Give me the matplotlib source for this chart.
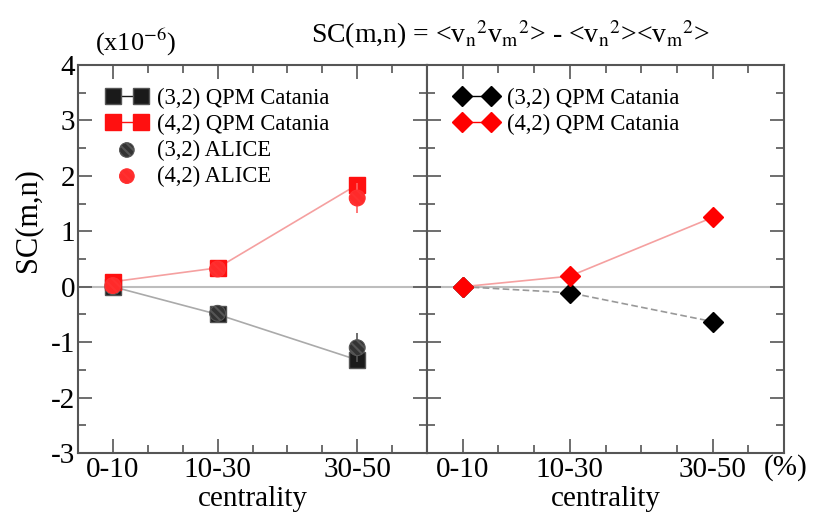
import matplotlib
matplotlib.use("Agg")
import matplotlib.pyplot as plt
import numpy as np
from matplotlib.ticker import MultipleLocator, FixedLocator

plt.rcParams['font.family'] = ['Liberation Serif', 'DejaVu Serif']
plt.rcParams['mathtext.fontset'] = 'stix'
plt.rcParams['axes.unicode_minus'] = False
plt.rcParams['hatch.linewidth'] = 1.5

# centrality bins (x position = bin centre in %)
cent = [5, 20, 40]
cent_labels = ["0-10", "10-30", "30-50"]

# left panel: QPM Catania vs ALICE
qpm32_left = [0.0, -0.5, -1.32]
qpm42_left = [0.09, 0.34, 1.84]
alice32 = [0.0, -0.48, -1.1]
alice32_err = [0.03, 0.05, 0.26]
alice42 = [0.02, 0.32, 1.6]
alice42_err = [0.03, 0.05, 0.27]

# right panel: QPM Catania
qpm32_right = [0.0, -0.11, -0.63]
qpm42_right = [0.0, 0.19, 1.25]

HATCH = '\\\\\\\\'

fig = plt.figure(figsize=(8.16, 5.17), dpi=100)
ax1 = fig.add_axes([0.0956, 0.1238, 0.4277, 0.7505])
ax2 = fig.add_axes([0.5233, 0.1238, 0.4375, 0.7505])

for ax in (ax1, ax2):
    ax.axhline(0, color='#bdbdbd', lw=1.5, zorder=1)
    ax.set_xlim(0, 50)
    ax.set_ylim(-3, 4)
    ax.xaxis.set_major_locator(FixedLocator(cent))
    ax.xaxis.set_minor_locator(FixedLocator([10, 15, 25, 30, 35, 45]))
    ax.set_xticklabels(cent_labels)
    ax.yaxis.set_major_locator(MultipleLocator(1))
    ax.yaxis.set_minor_locator(MultipleLocator(0.5))
    ax.tick_params(which='both', direction='in', top=True, right=True,
                   labelsize=21, color='#555555', width=1.2, pad=3)
    ax.tick_params(which='major', length=10)
    ax.tick_params(which='minor', length=6)
    for s in ax.spines.values():
        s.set_color('#555555')
        s.set_linewidth(1.5)
    ax.set_xlabel("centrality", fontsize=21, labelpad=2)

ax2.set_yticklabels([])
ax1.tick_params(axis='y', labelsize=21, pad=2)
fig.text(0.034, 0.574, "SC(m,n)", fontsize=22, rotation=90,
         ha='center', va='center')

# left panel
ax1.plot(cent, qpm32_left, color='#aaaaaa', lw=1.2, zorder=2)
ax1.plot(cent, qpm42_left, color='#f5a0a0', lw=1.2, zorder=2)
ax1.plot(cent, qpm32_left, ls='none', marker='s', ms=12, color='#1a1a1a',
         mec='#555555', zorder=3)
ax1.plot(cent, qpm42_left, ls='none', marker='s', ms=12, color='#ff1010',
         mec='#ff1010', zorder=3)
ax1.errorbar(cent, alice32, yerr=alice32_err, fmt='none', ecolor='#555555',
             elinewidth=1.2, zorder=4)
ax1.errorbar(cent, alice42, yerr=alice42_err, fmt='none', ecolor='#ff6060',
             elinewidth=1.2, zorder=4)
plt.rcParams['hatch.color'] = '#f0f0f0'
ax1.scatter(cent, alice32, s=130, marker='o', facecolor='#333333',
            edgecolor='#555555', hatch=HATCH, lw=0.8, zorder=5)
plt.rcParams['hatch.color'] = '#ffffff'
ax1.scatter(cent, alice42, s=130, marker='o', facecolor='#ff2a2a',
            edgecolor='#ff3030', hatch=HATCH, lw=0.8, zorder=5)

# legend (left)
h1, = ax1.plot([], [], marker='s', ms=11, color='#1a1a1a', mec='#555555',
               lw=1, label='(3,2) QPM Catania')
h2, = ax1.plot([], [], marker='s', ms=11, color='#ff1010', mec='#ff1010',
               lw=1, label='(4,2) QPM Catania')
plt.rcParams['hatch.color'] = '#f0f0f0'
h3 = ax1.scatter([], [], s=110, facecolor='#333333', edgecolor='#555555',
                 hatch=HATCH, lw=0.8, label='(3,2) ALICE')
plt.rcParams['hatch.color'] = '#ffffff'
h4 = ax1.scatter([], [], s=110, facecolor='#ff2a2a', edgecolor='#ff3030',
                 hatch=HATCH, lw=0.8, label='(4,2) ALICE')
ax1.legend(handles=[h1, h2, h3, h4], loc='upper left', frameon=False,
           fontsize=16.3, numpoints=2, scatterpoints=1, handlelength=1.85,
           handletextpad=0.4, labelspacing=0.22, borderaxespad=0,
           borderpad=0, bbox_to_anchor=(0.08, 0.942))

# right panel
ax2.plot(cent, qpm32_right, color='#999999', lw=1.2, ls=(0, (4, 2)), zorder=2)
ax2.plot(cent, qpm42_right, color='#f5a0a0', lw=1.2, zorder=2)
ax2.plot(cent, qpm32_right, ls='none', marker='D', ms=10, color='black', zorder=3)
ax2.plot(cent, qpm42_right, ls='none', marker='D', ms=10, color='#ff0000', zorder=3)
g1, = ax2.plot([], [], marker='D', ms=10, color='black', lw=1,
               label='(3,2) QPM Catania')
g2, = ax2.plot([], [], marker='D', ms=10, color='#ff0000', lw=1,
               label='(4,2) QPM Catania')
ax2.legend(handles=[g1, g2], loc='upper left', frameon=False, fontsize=16.3,
           numpoints=2, handlelength=1.85, handletextpad=0.4,
           labelspacing=0.22, borderaxespad=0, borderpad=0,
           bbox_to_anchor=(0.08, 0.942))

fig.text(0.166, 0.917, r"(x10$^{-6}$)", fontsize=19, ha='center', va='center')
fig.text(0.625, 0.932,
         r"SC(m,n) = <v$_\mathrm{n}$$^\mathrm{2}$v$_\mathrm{m}$$^\mathrm{2}$> - "
         r"<v$_\mathrm{n}$$^\mathrm{2}$><v$_\mathrm{m}$$^\mathrm{2}$>",
         fontsize=20, ha='center', va='center')
fig.text(0.963, 0.095, "(%)", fontsize=21, ha='center', va='center')

fig.savefig("out.png", dpi=100)
